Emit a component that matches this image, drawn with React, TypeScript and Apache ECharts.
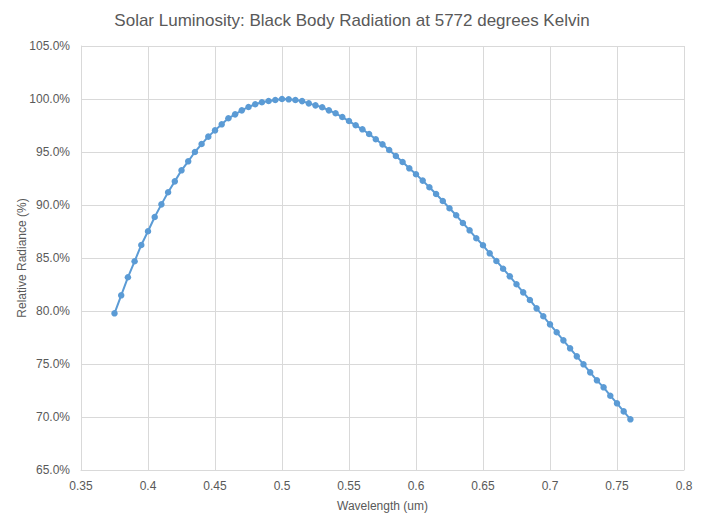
import React, { useEffect, useRef } from "react";
import * as echarts from "echarts";

const titleText = "Solar Luminosity: Black Body Radiation at 5772 degrees Kelvin";
const xAxisName = "Wavelength (um)";
const yAxisName = "Relative Radiance (%)";

const wavelengths: number[] = [
  0.375, 0.38, 0.385, 0.39, 0.395, 0.4, 0.405, 0.41, 0.415, 0.42,
  0.425, 0.43, 0.435, 0.44, 0.445, 0.45, 0.455, 0.46, 0.465, 0.47,
  0.475, 0.48, 0.485, 0.49, 0.495, 0.5, 0.505, 0.51, 0.515, 0.52,
  0.525, 0.53, 0.535, 0.54, 0.545, 0.55, 0.555, 0.56, 0.565, 0.57,
  0.575, 0.58, 0.585, 0.59, 0.595, 0.6, 0.605, 0.61, 0.615, 0.62,
  0.625, 0.63, 0.635, 0.64, 0.645, 0.65, 0.655, 0.66, 0.665, 0.67,
  0.675, 0.68, 0.685, 0.69, 0.695, 0.7, 0.705, 0.71, 0.715, 0.72,
  0.725, 0.73, 0.735, 0.74, 0.745, 0.75, 0.755, 0.76,
];

const radiancePct: number[] = [
  79.78, 81.48, 83.18, 84.69, 86.23, 87.52, 88.87, 90.06, 91.2, 92.23,
  93.27, 94.12, 95.0, 95.75, 96.45, 97.04, 97.61, 98.18, 98.55, 98.93,
  99.25, 99.5, 99.69, 99.81, 99.9, 100.0, 99.97, 99.9, 99.8, 99.59,
  99.4, 99.22, 98.93, 98.65, 98.3, 97.92, 97.52, 97.14, 96.7, 96.2,
  95.72, 95.19, 94.62, 94.06, 93.46, 92.9, 92.3, 91.67, 91.04, 90.38,
  89.69, 89.03, 88.3, 87.61, 86.86, 86.2, 85.44, 84.72, 83.99, 83.27,
  82.52, 81.76, 81.04, 80.25, 79.5, 78.74, 77.99, 77.23, 76.48, 75.72,
  74.97, 74.21, 73.46, 72.8, 72.01, 71.29, 70.53, 69.78,
];

const xMin = 0.35;
const xMax = 0.8;
const xStep = 0.05;
const yMin = 65;
const yMax = 105;
const yStep = 5;

const FONT = "'Liberation Sans', Arial, sans-serif";
const TEXT = "#595959";

export default function App() {
  const ref = useRef<HTMLDivElement>(null);

  useEffect(() => {
    document.body.style.margin = "0";
    if (!ref.current) return;
    const chart = echarts.init(ref.current, null, { renderer: "svg" });
    const data = wavelengths.map((w, i) => [w, radiancePct[i]]);
    chart.setOption({
      animation: false,
      backgroundColor: "#ffffff",
      title: {
        text: titleText,
        left: "center",
        top: 7,
        textStyle: {
          fontFamily: FONT,
          fontSize: 17,
          fontWeight: "normal",
          color: TEXT,
        },
      },
      grid: { left: 81, right: 20, top: 46, bottom: 56 },
      xAxis: {
        type: "value",
        min: xMin,
        max: xMax,
        interval: xStep,
        name: xAxisName,
        nameLocation: "middle",
        nameGap: 30,
        nameMoveOverlap: false,
        nameTextStyle: { fontFamily: FONT, fontSize: 12, color: TEXT },
        axisLine: { show: true, lineStyle: { color: "#D9D9D9", width: 1 } },
        axisTick: { show: false },
        axisLabel: {
          fontFamily: FONT,
          fontSize: 12,
          color: TEXT,
          margin: 10,
          formatter: (v: number) => String(parseFloat(v.toFixed(2))),
        },
        splitLine: { show: true, lineStyle: { color: "#D9D9D9", width: 1 } },
      },
      yAxis: {
        type: "value",
        min: yMin,
        max: yMax,
        interval: yStep,
        name: yAxisName,
        nameLocation: "middle",
        nameGap: 53,
        nameRotate: 90,
        nameMoveOverlap: false,
        nameTextStyle: { fontFamily: FONT, fontSize: 12, color: TEXT },
        axisLine: { show: true, lineStyle: { color: "#D9D9D9", width: 1 } },
        axisTick: { show: false },
        axisLabel: {
          fontFamily: FONT,
          fontSize: 12,
          color: TEXT,
          margin: 11,
          formatter: (v: number) => v.toFixed(1) + "%",
        },
        splitLine: { show: true, lineStyle: { color: "#D9D9D9", width: 1 } },
      },
      series: [
        {
          type: "line",
          data,
          symbol: "circle",
          symbolSize: 6.5,
          showSymbol: true,
          lineStyle: { color: "#5B9BD5", width: 2 },
          itemStyle: { color: "#5B9BD5", borderColor: "#5B9BD5", borderWidth: 0 },
        },
      ],
    });
    return () => chart.dispose();
  }, []);

  return <div ref={ref} style={{ width: 704, height: 526 }} />;
}
